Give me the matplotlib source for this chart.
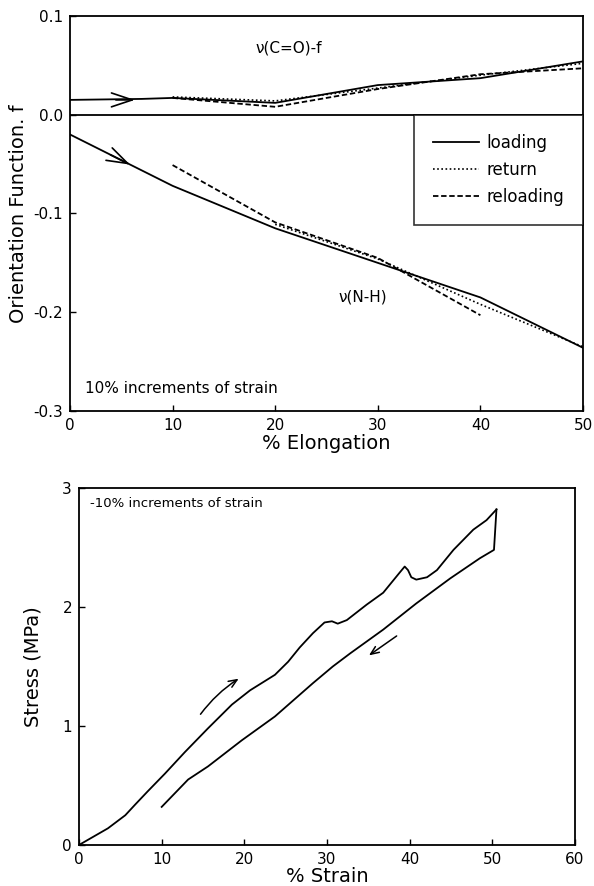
import matplotlib
matplotlib.use("Agg")
import matplotlib.pyplot as plt
from matplotlib.ticker import FixedLocator, FixedFormatter

# ---------------- data: top panel (orientation function) ----------------
co_load_x = [0, 7, 10, 20, 30, 40, 50]
co_load_y = [0.015, 0.016, 0.017, 0.012, 0.030, 0.037, 0.054]
co_ret_x = [10, 20, 30, 40, 50]
co_ret_y = [0.018, 0.014, 0.027, 0.040, 0.052]
co_rel_x = [10, 20, 30, 40, 50]
co_rel_y = [0.017, 0.008, 0.026, 0.041, 0.047]

nh_load_x = [0, 10, 20, 30, 40, 50]
nh_load_y = [-0.020, -0.072, -0.115, -0.150, -0.185, -0.236]
nh_ret_x = [20, 30, 40, 50]
nh_ret_y = [-0.111, -0.146, -0.192, -0.235]
nh_rel_x = [10, 20, 30, 40]
nh_rel_y = [-0.051, -0.109, -0.145, -0.203]

top_xticks = [0, 10, 20, 30, 40, 50]
top_yticks = [-0.3, -0.2, -0.1, 0.0, 0.1]
top_yticklabels = ["-0.3", "-0.2", "-0.1", "0.0", "0.1"]

# ---------------- data: bottom panel (stress-strain) ----------------
ss_load_x = [0, 1.5, 3.5, 5.6, 6.8, 8.3, 10.4, 12.8, 15.6, 18.5, 20.7, 23.7, 25.3, 26.7,
             28.3, 29.7, 30.6, 31.3, 32.4, 34.8, 36.8, 38.8, 39.4, 39.8, 40.2, 40.8,
             42.1, 43.3, 45.3, 47.7, 49.3, 50.5]
ss_load_y = [0, 0.06, 0.14, 0.25, 0.34, 0.45, 0.60, 0.78, 0.98, 1.18, 1.30, 1.43, 1.54, 1.66,
             1.78, 1.87, 1.88, 1.86, 1.89, 2.02, 2.12, 2.29, 2.34, 2.31, 2.25, 2.23,
             2.25, 2.31, 2.48, 2.65, 2.73, 2.82]
ss_unload_x = [50.5, 50.2, 48.5, 44.9, 40.8, 36.8, 32.8, 30.7, 28.3, 23.7, 19.7, 15.6,
               13.2, 10.0]
ss_unload_y = [2.82, 2.48, 2.41, 2.24, 2.03, 1.81, 1.61, 1.50, 1.36, 1.08, 0.88, 0.66,
               0.55, 0.32]

bot_xticks = [0, 10, 20, 30, 40, 50, 60]
bot_yticks = [0, 1, 2, 3]

fig = plt.figure(figsize=(5.94, 8.86), dpi=100)
plt.rcParams['font.family'] = ['DejaVu Sans']

# ---------------- top panel ----------------
ax1 = fig.add_axes([0.1178, 0.5361, 0.8637, 0.4459])
ax1.set_xlim(0, 50)
ax1.set_ylim(-0.3, 0.1)
ax1.axhline(0, color='black', lw=1.3)

l1, = ax1.plot(co_load_x, co_load_y, color='black', lw=1.3, ls='-', label='loading')
l2, = ax1.plot(co_ret_x, co_ret_y, color='black', lw=1.2, ls=(0, (1, 1.5)), label='return')
l3, = ax1.plot(co_rel_x, co_rel_y, color='black', lw=1.3, ls=(0, (3, 1.5)), label='reloading')
ax1.plot(nh_load_x, nh_load_y, color='black', lw=1.3, ls='-')
ax1.plot(nh_ret_x, nh_ret_y, color='black', lw=1.2, ls=(0, (1, 1.5)))
ax1.plot(nh_rel_x, nh_rel_y, color='black', lw=1.3, ls=(0, (3, 1.5)))

ax1.annotate('', xy=(6.6, 0.015), xytext=(4.2, 0.015),
             arrowprops=dict(arrowstyle='->,head_length=1.5,head_width=0.5',
                             color='black', lw=1.2))
ax1.annotate('', xy=(6.1, -0.0518), xytext=(3.7, -0.0393),
             arrowprops=dict(arrowstyle='->,head_length=1.5,head_width=0.5',
                             color='black', lw=1.2))

ax1.text(18.1, 0.068, 'ν(C=O)-f', fontsize=11, va='center', ha='left')
ax1.text(26.2, -0.185, 'ν(N-H)', fontsize=11, va='center', ha='left')
ax1.text(1.5, -0.277, '10% increments of strain', fontsize=11, va='center', ha='left')

leg = ax1.legend(handles=[l1, l2, l3], loc='upper right',
                 bbox_to_anchor=(1.0, 0.75), frameon=True, fancybox=False,
                 edgecolor='black', fontsize=12, handlelength=2.8,
                 borderpad=1.15, labelspacing=0.55, handletextpad=0.4,
                 borderaxespad=0.0)
leg.get_frame().set_linewidth(1.2)

ax1.xaxis.set_major_locator(FixedLocator(top_xticks))
ax1.yaxis.set_major_locator(FixedLocator(top_yticks))
ax1.yaxis.set_major_formatter(FixedFormatter(top_yticklabels))
ax1.tick_params(direction='in', length=4, width=1, labelsize=11, pad=5)
ax1.set_xlabel('% Elongation', fontsize=14, labelpad=1)
ax1.set_ylabel('Orientation Function. f', fontsize=14, labelpad=4)
for s in ax1.spines.values():
    s.set_linewidth(1.3)

# ---------------- bottom panel ----------------
ax2 = fig.add_axes([0.133, 0.0463, 0.835, 0.4029])
ax2.set_xlim(0, 60)
ax2.set_ylim(0, 3)
ax2.plot(ss_load_x, ss_load_y, color='black', lw=1.3)
ax2.plot(ss_unload_x, ss_unload_y, color='black', lw=1.3)

ax2.annotate('', xy=(19.6, 1.41), xytext=(14.5, 1.08),
             arrowprops=dict(arrowstyle='->,head_length=0.6,head_width=0.25',
                             color='black', lw=1.1,
                             connectionstyle='arc3,rad=-0.1'))
ax2.annotate('', xy=(34.8, 1.58), xytext=(38.7, 1.77),
             arrowprops=dict(arrowstyle='->,head_length=0.6,head_width=0.25',
                             color='black', lw=1.1))

ax2.text(1.3, 2.87, '-10% increments of strain', fontsize=9.5, va='center', ha='left')

ax2.xaxis.set_major_locator(FixedLocator(bot_xticks))
ax2.yaxis.set_major_locator(FixedLocator(bot_yticks))
ax2.tick_params(direction='in', length=4, width=1, labelsize=11, pad=5)
ax2.set_xlabel('% Strain', fontsize=14, labelpad=0)
ax2.set_ylabel('Stress (MPa)', fontsize=14, labelpad=14)
for s in ax2.spines.values():
    s.set_linewidth(1.3)

fig.savefig('out.png', dpi=100)
